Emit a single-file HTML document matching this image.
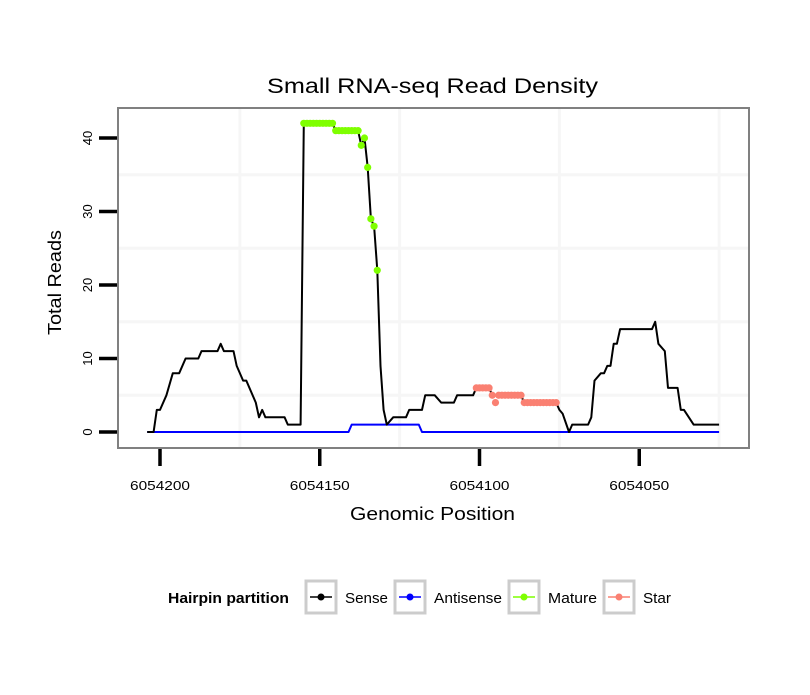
<!DOCTYPE html>
<html><head><meta charset="utf-8"><style>
body{margin:0;background:#fff;}
svg text{font-family:"Liberation Sans",sans-serif;}
</style></head><body>
<svg id="chart" width="810" height="690" viewBox="0 0 810 690" xmlns="http://www.w3.org/2000/svg">
<rect width="810" height="690" fill="#fff"/>
<text x="267" y="93" font-size="21" textLength="331" lengthAdjust="spacingAndGlyphs">Small RNA-seq Read Density</text>
<rect x="118" y="108" width="631" height="340" fill="#fff"/>
<g id="grid"></g>
<g id="series"></g>
<rect x="118" y="108" width="631" height="340" fill="none" stroke="#808080" stroke-width="2"/>
<g id="axes"></g>
<text x="350" y="520" font-size="18" textLength="165" lengthAdjust="spacingAndGlyphs">Genomic Position</text>
<text transform="translate(61,335) rotate(-90)" font-size="18" textLength="105" lengthAdjust="spacingAndGlyphs">Total Reads</text>
<g>
<text x="168" y="603" font-size="15" font-weight="bold" textLength="121" lengthAdjust="spacingAndGlyphs">Hairpin partition</text>
<g>
<rect x="306" y="581" width="30" height="32" fill="#fff" stroke="#ccc" stroke-width="3"/>
<line x1="310" y1="597" x2="332" y2="597" stroke="#000" stroke-width="1.5"/><circle cx="321" cy="597" r="3.5" fill="#000"/>
<text x="345" y="603" font-size="15" textLength="43" lengthAdjust="spacingAndGlyphs">Sense</text></g>
<g>
<rect x="395" y="581" width="30" height="32" fill="#fff" stroke="#ccc" stroke-width="3"/>
<line x1="399" y1="597" x2="421" y2="597" stroke="#0000ff" stroke-width="1.5"/><circle cx="410" cy="597" r="3.5" fill="#0000ff"/>
<text x="434" y="603" font-size="15" textLength="68" lengthAdjust="spacingAndGlyphs">Antisense</text></g>
<g>
<rect x="509" y="581" width="30" height="32" fill="#fff" stroke="#ccc" stroke-width="3"/>
<line x1="513" y1="597" x2="535" y2="597" stroke="#7fff00" stroke-width="1.5"/><circle cx="524" cy="597" r="3.5" fill="#7fff00"/>
<text x="548" y="603" font-size="15" textLength="49" lengthAdjust="spacingAndGlyphs">Mature</text></g>
<g>
<rect x="604" y="581" width="30" height="32" fill="#fff" stroke="#ccc" stroke-width="3"/>
<line x1="608" y1="597" x2="630" y2="597" stroke="#fa8072" stroke-width="1.5"/><circle cx="619" cy="597" r="3.5" fill="#fa8072"/>
<text x="643" y="603" font-size="15" textLength="28" lengthAdjust="spacingAndGlyphs">Star</text></g>
</g>
</svg>
<script>
const senseX=[6054204,6054202,6054201,6054200,6054198,6054196,6054194,6054192,6054188,6054187,6054182,6054181,6054180,6054177,6054176,6054174,6054173,6054170,6054169,6054168,6054167,6054161,6054160,6054156,6054155,6054146,6054145,6054138,6054137,6054136,6054135,6054134,6054133,6054132,6054131,6054130,6054129,6054127,6054123,6054122,6054118,6054117,6054114,6054112,6054108,6054107,6054102,6054101,6054097,6054096,6054087,6054086,6054076,6054075,6054074,6054072,6054071,6054066,6054065,6054064,6054062,6054061,6054060,6054059,6054058,6054057,6054056,6054046,6054045,6054044,6054042,6054041,6054038,6054037,6054036,6054033,6054025];
const senseY=[0,0,3,3,5,8,8,10,10,11,11,12,11,11,9,7,7,4,2,3,2,2,1,1,42,42,41,41,39,40,36,29,28,22,9,3,1,2,2,3,3,5,5,4,4,5,5,6,6,5,5,4,4,3,2.5,0,1,1,2,7,8,8,9,9,12,12,14,14,15,12,11,6,6,3,3,1,1];
const antiX=[6054204,6054141,6054140,6054119,6054118,6054025];
const antiY=[0,0,1,1,0,0];
const matureX=[6054155,6054154,6054153,6054152,6054151,6054150,6054149,6054148,6054147,6054146,6054145,6054144,6054143,6054142,6054141,6054140,6054139,6054138,6054137,6054136,6054135,6054134,6054133,6054132];
const matureY=[42,42,42,42,42,42,42,42,42,42,41,41,41,41,41,41,41,41,39,40,36,29,28,22];
const starX=[6054101,6054100,6054099,6054098,6054097,6054096,6054095,6054094,6054093,6054092,6054091,6054090,6054089,6054088,6054087,6054086,6054085,6054084,6054083,6054082,6054081,6054080,6054079,6054078,6054077,6054076];
const starY=[6,6,6,6,6,5,4,5,5,5,5,5,5,5,5,4,4,4,4,4,4,4,4,4,4,4];
const xTicks=[6054200,6054150,6054100,6054050];
const yTicks=[0,10,20,30,40];
const xMinor=[6054175,6054125,6054075,6054025];
const yMinor=[5,15,25,35];

const NS="http://www.w3.org/2000/svg";
function sx(p){return 160+(6054200-p)*3.195;}
function sy(v){return 432-v*7.35;}
function mk(tag,attrs,parent){const e=document.createElementNS(NS,tag);for(const k in attrs)e.setAttribute(k,attrs[k]);parent.appendChild(e);return e;}
const grid=document.getElementById('grid'),series=document.getElementById('series'),axes=document.getElementById('axes');
xMinor.forEach(p=>{const x=sx(p);if(x>118&&x<749){const l=mk('line',{x1:x,x2:x,y1:109,y2:447,stroke:'#f6f6f6','stroke-width':3},grid);

}});
yMinor.forEach(v=>{const y=sy(v);const l=mk('line',{x1:119,x2:748,y1:y,y2:y,stroke:'#f6f6f6','stroke-width':3},grid);

});
function path(xs,ys,color,name){const d=xs.map((p,i)=>(i?'L':'M')+sx(p).toFixed(1)+','+sy(ys[i]).toFixed(1)).join('');const e=mk('path',{d:d,fill:'none',stroke:color,'stroke-width':2,'stroke-linejoin':'round'},series);

}
path(antiX,antiY,'#0000ff','antisense-line');
path(senseX,senseY,'#000000','sense-line');
function pts(xs,ys,color,name){xs.forEach((p,i)=>{const c=mk('circle',{cx:sx(p),cy:sy(ys[i]),r:3.6,fill:color},series);

});}
pts(matureX,matureY,'#7fff00','mature-point');
pts(starX,starY,'#fa8072','star-point');
xTicks.forEach(p=>{const x=sx(p);const t=mk('line',{x1:x,x2:x,y1:449,y2:466,stroke:'#000','stroke-width':3.5},axes);


const lb=mk('text',{x:x-30,y:490,'font-size':13,textLength:60,lengthAdjust:'spacingAndGlyphs'},axes);lb.textContent=p;

});
yTicks.forEach(v=>{const y=sy(v);const t=mk('line',{x1:99,x2:117,y1:y,y2:y,stroke:'#000','stroke-width':3.5},axes);


const lb=mk('text',{transform:'translate(92,'+y+') rotate(-90)','font-size':13,'text-anchor':'middle'},axes);lb.textContent=v;

});
</script>
</body></html>
